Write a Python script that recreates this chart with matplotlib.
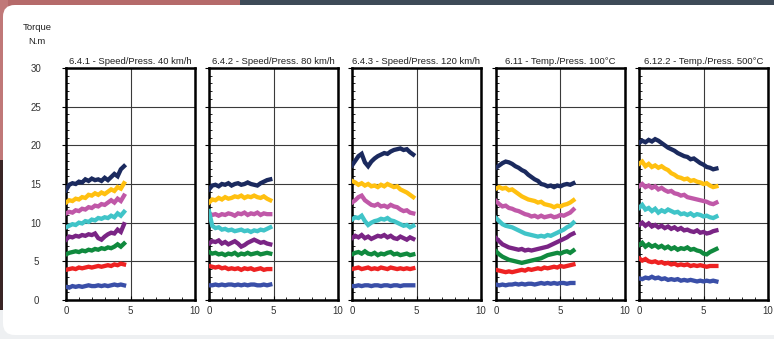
import matplotlib
matplotlib.use("Agg")
import matplotlib.pyplot as plt
from matplotlib.patches import FancyBboxPatch, Rectangle
from matplotlib.ticker import MultipleLocator
import numpy as np

plt.rcParams['font.family'] = ['Liberation Sans', 'DejaVu Sans']

titles = ["6.4.1 - Speed/Press. 40 km/h", "6.4.2 - Speed/Press. 80 km/h",
          "6.4.3 - Speed/Press. 120 km/h", "6.11 - Temp./Press. 100°C",
          "6.12.2 - Temp./Press. 500°C"]
series_names = ["navy", "gold", "pink", "cyan", "purple", "green", "red", "blue"]
colors = ["#1b2a5e", "#ffc010", "#c058a8", "#40c4c8", "#7a2585", "#108a3e", "#ee2222", "#3a4fa8"]

x_p1 = [i * 0.25 for i in range(19)]
x_p2 = [i * 0.25 for i in range(20)]
x_p3 = [i * 0.25 for i in range(20)]
x_p4 = [i * 0.25 for i in range(25)]
x_p5 = [i * 0.25 for i in range(25)]

p1 = {
    "navy":   [14.2,14.9,15.1,15.0,15.3,15.2,15.6,15.4,15.7,15.5,15.6,15.4,15.8,15.5,15.9,16.3,16.0,16.9,17.3],
    "gold":   [12.6,12.9,12.8,13.1,13.0,13.3,13.2,13.6,13.5,13.8,13.6,13.9,13.7,14.0,14.3,14.1,14.6,14.4,15.1],
    "pink":   [11.2,11.4,11.3,11.6,11.5,11.8,11.7,12.0,11.9,12.2,12.1,12.4,12.3,12.6,12.9,12.6,13.1,12.8,13.5],
    "cyan":   [9.4,9.6,9.8,9.7,10.0,9.9,10.2,10.1,10.4,10.3,10.6,10.5,10.7,10.6,10.9,10.7,11.2,10.9,11.4],
    "purple": [7.8,8.2,8.1,8.3,8.2,8.4,8.3,8.5,8.4,8.6,8.0,7.8,8.2,8.5,8.7,8.6,9.1,8.8,9.8],
    "green":  [5.9,6.1,6.2,6.3,6.2,6.4,6.3,6.5,6.4,6.6,6.5,6.7,6.6,6.8,6.7,6.9,7.2,6.9,7.3],
    "red":    [3.9,4.0,4.1,4.0,4.2,4.1,4.2,4.3,4.2,4.3,4.4,4.3,4.4,4.5,4.4,4.6,4.5,4.7,4.6],
    "blue":   [1.7,1.6,1.8,1.7,1.8,1.7,1.8,1.9,1.8,1.8,1.9,1.8,1.9,1.8,1.9,2.0,1.9,2.0,1.9],
}
p2 = {
    "navy":   [14.3,14.8,14.9,14.7,15.0,14.9,15.1,14.8,15.0,15.1,14.9,15.0,15.2,15.0,14.9,14.8,15.1,15.3,15.5,15.6],
    "gold":   [12.6,13.0,12.9,13.2,13.0,13.3,13.1,13.2,13.4,13.3,13.5,13.2,13.4,13.3,13.5,13.3,13.2,13.4,13.1,12.9],
    "pink":   [11.2,11.0,11.1,10.9,11.1,11.0,11.2,11.1,10.9,11.2,11.1,11.3,11.0,11.2,11.1,11.3,11.0,11.2,11.1,11.1],
    "cyan":   [11.5,9.6,9.3,9.4,9.1,9.2,9.0,9.1,8.9,9.0,9.1,8.9,9.0,8.8,9.0,8.9,9.1,9.0,9.2,9.4],
    "purple": [7.3,7.6,7.5,7.7,7.3,7.5,7.2,7.4,7.6,7.3,6.9,7.1,7.4,7.6,7.8,7.6,7.4,7.5,7.3,7.2],
    "green":  [6.2,6.0,6.1,5.9,6.0,5.8,6.0,5.9,6.1,5.8,6.0,5.9,6.1,5.9,6.0,6.1,5.9,6.0,6.1,6.0],
    "red":    [4.4,4.3,4.2,4.3,4.1,4.2,4.0,4.1,4.0,4.1,3.9,4.1,4.0,4.1,3.9,4.0,4.1,3.9,4.0,4.0],
    "blue":   [1.9,1.9,2.0,1.9,2.0,1.9,2.0,2.0,1.9,2.0,1.9,2.0,1.9,2.0,2.0,1.9,1.9,2.0,1.9,2.0],
}
p3 = {
    "navy":   [17.4,18.0,18.6,18.9,17.8,17.3,17.9,18.3,18.6,18.8,19.0,18.9,19.2,19.4,19.5,19.6,19.4,19.5,19.1,18.8],
    "gold":   [15.4,15.2,14.9,15.1,14.8,15.0,14.7,14.8,14.6,14.9,14.7,15.0,14.8,14.6,14.7,14.3,14.1,13.9,13.6,13.3],
    "pink":   [12.6,12.9,13.3,13.5,12.9,12.6,12.3,12.2,12.4,12.1,12.2,12.0,12.3,12.1,12.0,11.7,11.5,11.6,11.3,11.2],
    "cyan":   [10.4,10.7,10.6,10.9,10.2,9.7,10.0,10.2,10.3,10.5,10.4,10.6,10.3,10.2,10.0,9.8,9.6,9.7,9.4,9.6],
    "purple": [8.0,8.3,8.1,8.4,8.0,8.2,7.9,8.1,8.3,8.2,8.4,8.1,8.3,8.0,7.9,8.2,8.0,7.8,8.1,7.9],
    "green":  [5.9,6.1,6.2,6.0,6.3,6.0,5.9,6.1,5.8,6.0,5.9,6.1,6.2,5.9,6.0,5.8,5.9,6.0,5.8,5.9],
    "red":    [4.0,4.1,4.2,4.0,4.1,4.2,4.0,4.1,4.0,4.2,4.1,4.0,4.2,4.1,4.0,4.1,4.0,4.1,4.0,4.1],
    "blue":   [1.8,1.8,1.9,1.8,1.9,1.9,1.8,1.9,1.9,1.8,1.9,1.9,1.8,1.9,1.9,1.8,1.9,1.9,1.9,1.9],
}
p4 = {
    "navy":   [17.1,17.4,17.7,17.9,17.8,17.6,17.3,17.1,16.8,16.6,16.2,15.9,15.6,15.4,15.0,14.9,14.7,14.8,14.6,14.8,14.7,14.9,15.0,14.9,15.1],
    "gold":   [14.4,14.6,14.4,14.5,14.2,14.3,14.0,13.7,13.4,13.2,13.0,12.9,12.8,12.6,12.7,12.4,12.3,12.2,12.0,12.2,12.1,12.3,12.4,12.6,12.9],
    "pink":   [12.8,12.4,12.1,12.2,11.9,11.8,11.6,11.5,11.3,11.1,11.0,10.8,10.9,10.7,10.9,10.7,10.8,10.9,10.7,10.8,11.0,10.9,11.1,11.3,11.7],
    "cyan":   [10.6,10.2,9.8,9.6,9.5,9.4,9.2,9.0,8.8,8.6,8.5,8.4,8.3,8.2,8.3,8.2,8.4,8.3,8.5,8.7,8.9,9.1,9.4,9.6,10.0],
    "purple": [8.0,7.6,7.2,7.0,6.8,6.7,6.6,6.5,6.6,6.4,6.5,6.4,6.5,6.6,6.7,6.8,6.9,7.1,7.3,7.5,7.7,7.9,8.1,8.4,8.6],
    "green":  [6.3,5.9,5.6,5.4,5.2,5.1,5.0,4.9,4.8,4.9,5.0,5.1,5.2,5.3,5.4,5.6,5.8,5.9,6.0,6.1,6.0,6.2,6.3,6.1,6.4],
    "red":    [3.9,3.8,3.7,3.6,3.7,3.6,3.7,3.8,3.9,3.8,4.0,3.9,4.0,4.1,4.0,4.2,4.1,4.2,4.3,4.2,4.4,4.3,4.4,4.5,4.6],
    "blue":   [2.0,1.9,2.0,1.9,2.0,2.0,2.1,2.0,2.1,2.0,2.1,2.1,2.0,2.1,2.2,2.1,2.2,2.1,2.2,2.1,2.2,2.2,2.1,2.2,2.2],
}
p5 = {
    "navy":   [20.3,20.6,20.4,20.7,20.5,20.8,20.6,20.3,20.0,19.7,19.5,19.3,19.0,18.8,18.6,18.5,18.2,18.3,18.0,17.7,17.5,17.2,17.1,16.9,17.0],
    "gold":   [17.6,17.9,17.3,17.6,17.2,17.4,17.1,17.3,17.0,16.8,16.4,16.2,15.9,15.8,15.6,15.7,15.4,15.5,15.3,15.2,15.0,15.1,14.8,14.6,14.7],
    "pink":   [14.7,15.0,14.6,14.8,14.5,14.7,14.3,14.5,14.2,14.0,14.1,13.8,13.7,13.5,13.6,13.3,13.2,13.1,13.0,12.9,12.8,12.7,12.5,12.4,12.6],
    "cyan":   [11.9,12.3,11.7,11.9,11.5,11.8,11.3,11.6,11.4,11.7,11.5,11.3,11.4,11.1,11.2,11.0,11.2,10.9,11.1,11.0,10.8,10.9,10.7,10.6,10.8],
    "purple": [9.7,10.0,9.6,9.9,9.5,9.7,9.4,9.6,9.3,9.5,9.2,9.4,9.1,9.3,9.0,9.1,8.9,8.8,9.0,8.7,8.8,8.6,8.7,8.9,9.0],
    "green":  [7.1,7.4,6.9,7.2,6.9,7.1,6.8,7.0,6.7,6.9,6.6,6.8,6.5,6.7,6.6,6.8,6.5,6.6,6.4,6.3,6.0,5.9,6.2,6.4,6.6],
    "red":    [5.4,5.1,5.3,5.0,4.9,5.0,4.8,4.9,4.7,4.8,4.6,4.7,4.5,4.6,4.5,4.6,4.4,4.5,4.4,4.5,4.4,4.3,4.4,4.4,4.4],
    "blue":   [2.8,2.7,2.9,2.8,3.0,2.8,2.9,2.7,2.8,2.6,2.7,2.6,2.7,2.5,2.6,2.5,2.6,2.5,2.4,2.5,2.4,2.5,2.4,2.5,2.4],
}
panels = [(x_p1, p1), (x_p2, p2), (x_p3, p3), (x_p4, p4), (x_p5, p5)]

W, H = 774, 339
fig = plt.figure(figsize=(W / 100, H / 100), dpi=100)
fig.patch.set_facecolor("#eef0f2")


def px_rect(x0, y0, w, h, color, z):
    # rectangle given in pixel coordinates measured from the top-left corner
    fig.patches.append(Rectangle((x0 / W, 1 - (y0 + h) / H), w / W, h / H,
                                 transform=fig.transFigure, facecolor=color,
                                 edgecolor="none", zorder=z))


# background decoration around the white card
px_rect(0, 0, 774, 8, "#3d4a57", -4)
px_rect(0, 0, 240, 8, "#b56a6a", -3.9)
px_rect(0, 0, 8, 160, "#c07878", -3.8)
px_rect(0, 160, 4, 150, "#3a2424", -3.8)
fig.patches.append(FancyBboxPatch((3 / W, 4 / H), 1.2, 1 - 9 / H,
                                  boxstyle="round,pad=0,rounding_size=0.015",
                                  transform=fig.transFigure, facecolor="white",
                                  edgecolor="none", zorder=-2, mutation_aspect=W / H))

lefts = [66, 209, 352, 496, 639]
pw = 129
bottom_px, top_px = 300, 68

for i, (xs, data) in enumerate(panels):
    ax = fig.add_axes([lefts[i] / W, (H - bottom_px) / H, pw / W, (bottom_px - top_px) / H])
    ax.set_zorder(1)
    ax.set_xlim(0, 10)
    ax.set_ylim(0, 30)
    ax.xaxis.set_major_locator(MultipleLocator(5))
    ax.xaxis.set_minor_locator(MultipleLocator(1))
    ax.yaxis.set_major_locator(MultipleLocator(5))
    ax.yaxis.set_minor_locator(MultipleLocator(1))
    ax.grid(True, which="major", color="#3a3a3a", linewidth=0.8)
    ax.set_axisbelow(True)
    for name, col in zip(series_names, colors):
        ax.plot(xs, data[name], color=col, linewidth=3.1, solid_joinstyle="miter", zorder=3)
    for sp in ax.spines.values():
        sp.set_linewidth(1.8)
        sp.set_color("black")
    ax.tick_params(axis="y", which="major", direction="out", length=3, width=0.8,
                   labelsize=7, pad=18.5, colors="black", labelcolor="#333333")
    ax.tick_params(axis="y", which="minor", direction="in", length=2, width=0.6)
    ax.tick_params(axis="x", which="major", direction="in", length=3, width=0.8,
                   labelsize=7, pad=4, labelcolor="#333333")
    ax.tick_params(axis="x", which="minor", direction="in", length=2, width=0.6)
    if i != 0:
        ax.set_yticklabels([])
    else:
        for lab in ax.get_yticklabels():
            lab.set_horizontalalignment("center")
    ax.set_title(titles[i], fontsize=6.8, pad=3, color="#222222")

fig.text(37 / W, 1 - 28 / H, "Torque", fontsize=6.8, ha="center", va="center", color="#222222")
fig.text(37 / W, 1 - 42 / H, "N.m", fontsize=6.8, ha="center", va="center", color="#222222")

fig.savefig("out.png", dpi=100, facecolor=fig.get_facecolor())
